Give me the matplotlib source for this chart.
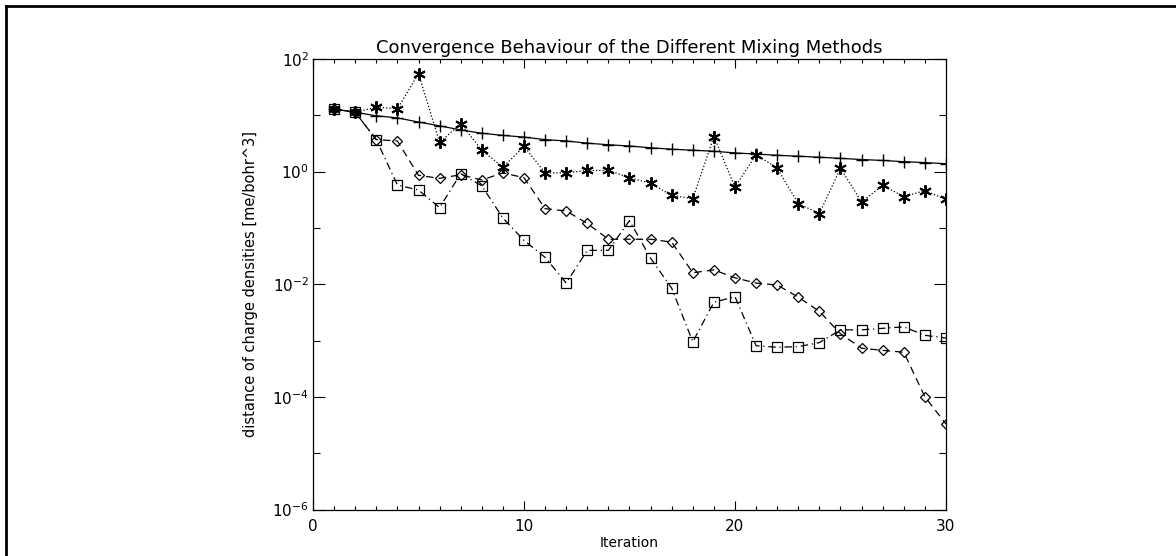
import numpy as np
import matplotlib
matplotlib.use("Agg")
import matplotlib.pyplot as plt
from matplotlib.lines import Line2D
from matplotlib.ticker import FixedLocator, NullFormatter

# --- data ---
iterations = list(range(1, 31))

plus_series = [13, 11.3, 9.8, 9.0, 7.6, 6.5, 5.5, 4.8, 4.4, 4.1,
               3.7, 3.5, 3.2, 3.0, 2.85, 2.65, 2.5, 2.4, 2.3, 2.15,
               2.05, 1.95, 1.88, 1.8, 1.72, 1.64, 1.58, 1.5, 1.45, 1.38]

star_series = [13, 11.3, 14, 13, 55, 3.3, 7.1, 2.4, 1.2, 2.8,
               0.95, 0.95, 1.05, 1.05, 0.78, 0.62, 0.38, 0.33, 4.2, 0.53,
               2.0, 1.15, 0.27, 0.18, 1.15, 0.29, 0.57, 0.36, 0.46, 0.32]

diamond_series = [13, 11.3, 3.7, 3.5, 0.86, 0.76, 0.88, 0.71, 0.95, 0.78,
                  0.22, 0.2, 0.12, 0.063, 0.063, 0.063, 0.056, 0.016, 0.018, 0.013,
                  0.0105, 0.0097, 0.0059, 0.0033, 0.00132, 0.00073, 0.00067, 0.00062, 0.0001, 3.3e-5]

square_series = [13, 11.3, 3.7, 0.58, 0.47, 0.23, 0.92, 0.56, 0.15, 0.06,
                 0.03, 0.0105, 0.04, 0.04, 0.135, 0.029, 0.0085, 0.00095, 0.0048, 0.006,
                 0.00081, 0.00076, 0.00078, 0.00092, 0.00155, 0.00155, 0.00165, 0.00175, 0.00124, 0.00111]

y_major = [1e-6, 1e-4, 1e-2, 1e0, 1e2]
y_major_labels = ['$10^{-6}$', '$10^{-4}$', '$10^{-2}$', '$10^{0}$', '$10^{2}$']
y_minor = [1e-5, 1e-3, 1e-1, 1e1]
x_major = [0, 10, 20, 30]

plt.rcParams['font.family'] = 'DejaVu Sans'
plt.rcParams['mathtext.fontset'] = 'dejavusans'

fig = plt.figure(figsize=(11.76, 5.56), dpi=100, facecolor='white')
W, H = 1176, 556
ax = fig.add_axes([313 / W, 1 - 509.5 / H, (946 - 313) / W, 450.5 / H])

lw = 0.9
ax.plot(iterations, plus_series, color='black', linestyle='-', linewidth=lw,
        marker='+', markersize=9, markeredgewidth=1.0)
ax.plot(iterations, star_series, color='black', linestyle=':', linewidth=lw,
        marker=(6, 2, 0), markersize=9, markeredgewidth=1.4)
ax.plot(iterations, diamond_series, color='black', linestyle=(0, (6, 4)), linewidth=lw,
        marker='D', markersize=5.5, markerfacecolor='none', markeredgewidth=0.9)
ax.plot(iterations, square_series, color='black', linestyle=(0, (6, 3, 1, 3)), linewidth=lw,
        marker='s', markersize=7.5, markerfacecolor='none', markeredgewidth=0.9)

ax.set_yscale('log')
ax.set_xlim(0, 30)
ax.set_ylim(1e-6, 1e2)

ax.xaxis.set_major_locator(FixedLocator(x_major))
ax.xaxis.set_minor_locator(FixedLocator(iterations))
ax.yaxis.set_major_locator(FixedLocator(y_major))
ax.set_yticklabels(y_major_labels)
ax.yaxis.set_minor_locator(FixedLocator(y_minor))
ax.yaxis.set_minor_formatter(NullFormatter())

ax.tick_params(axis='both', which='both', direction='in', top=True, right=True,
               color='black', width=0.8)
ax.tick_params(axis='x', which='major', length=6.5, pad=7, labelsize=11)
ax.tick_params(axis='x', which='minor', length=3)
ax.tick_params(axis='y', which='major', length=8.5, pad=3, labelsize=11)
ax.tick_params(axis='y', which='minor', length=5)

for spine in ax.spines.values():
    spine.set_linewidth(0.9)

ax.set_title('Convergence Behaviour of the Different Mixing Methods', fontsize=13, pad=4)
ax.set_xlabel('Iteration', fontsize=10, labelpad=1)
ax.set_ylabel('distance of charge densities [me/bohr^3]', fontsize=10.5, labelpad=10)

# page frame (top and left edges)
fig.add_artist(Line2D([5.5 / W, 1.0], [1 - 5.5 / H, 1 - 5.5 / H], color='black', linewidth=2,
                      transform=fig.transFigure))
fig.add_artist(Line2D([5.5 / W, 5.5 / W], [0.0, 1 - 5.5 / H], color='black', linewidth=2,
                      transform=fig.transFigure))

fig.savefig('out.png', dpi=100)
